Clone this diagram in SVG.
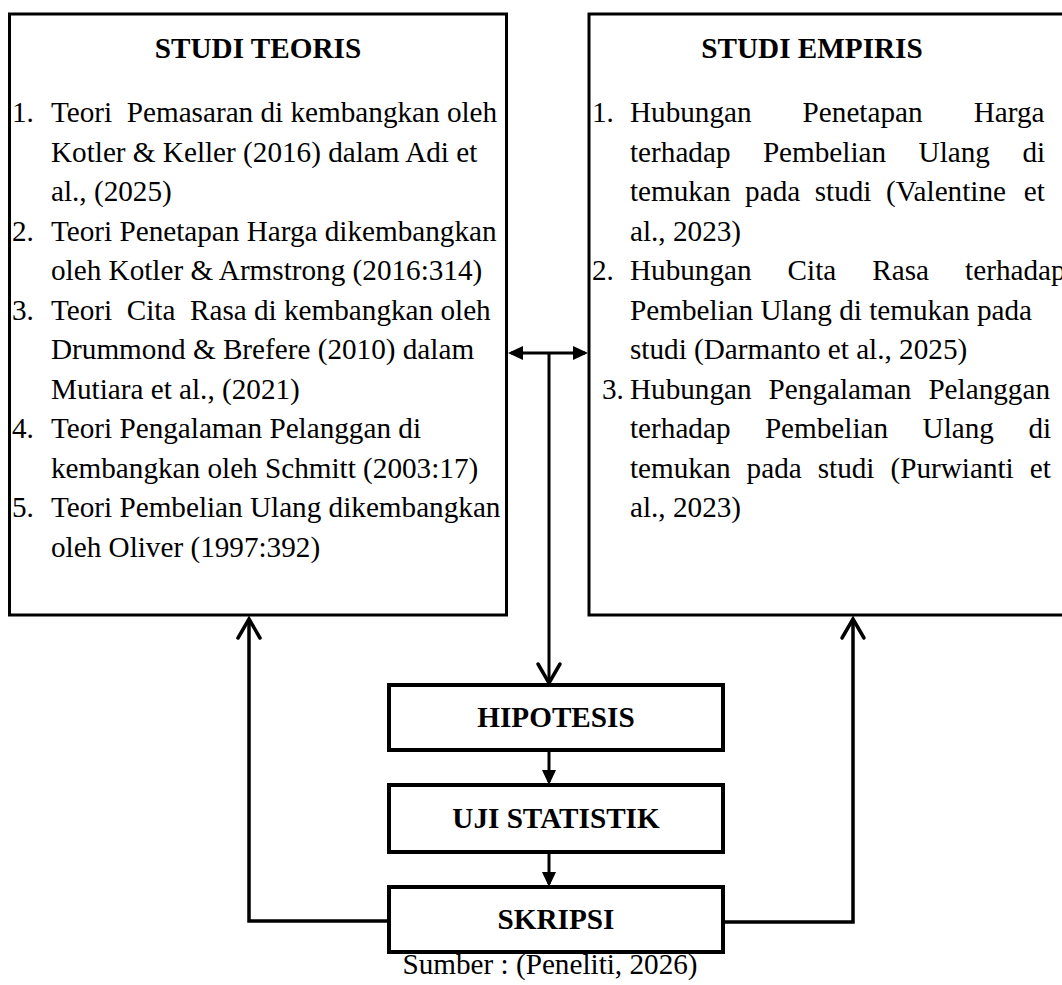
<svg xmlns="http://www.w3.org/2000/svg" width="1062" height="985" viewBox="0 0 1062 985">
<style>
text{font-family:"Liberation Serif","Times New Roman",serif;font-size:29.2px;fill:#000;white-space:pre}
.b{font-weight:bold}
.m{text-anchor:middle}
.box{fill:#fff;stroke:#000;stroke-width:3}
.sbox{fill:#fff;stroke:#000;stroke-width:4}
.ln{fill:none;stroke:#000;stroke-width:3}
.lp{fill:none;stroke:#000;stroke-width:3.5}
</style>
<defs>
<marker id="tri" markerUnits="userSpaceOnUse" markerWidth="30" markerHeight="30" refX="0" refY="0" orient="auto-start-reverse" style="overflow:visible">
<path d="M3,0 L-12,-7 L-12,7 Z" fill="#000"/>
</marker>
<marker id="open" markerUnits="userSpaceOnUse" markerWidth="30" markerHeight="30" refX="0" refY="0" orient="auto" style="overflow:visible">
<path d="M-19,-11 L0,0 L-19,11" fill="none" stroke="#000" stroke-width="3.5" stroke-linecap="round"/>
</marker>
</defs>
<rect width="1062" height="985" fill="#fff"/>

<g id="studi-teoris">
<rect class="box" x="9.5" y="14" width="497" height="601"/>
<text class="b m" x="258" y="57.5">STUDI TEORIS</text>
<text x="12" y="122">1.</text><text x="51" y="122" xml:space="preserve">Teori  Pemasaran di kembangkan oleh</text>
<text x="51" y="161.5">Kotler &amp; Keller (2016) dalam Adi et</text>
<text x="51" y="201">al., (2025)</text>
<text x="12" y="240.5">2.</text><text x="51" y="240.5">Teori Penetapan Harga dikembangkan</text>
<text x="51" y="280">oleh Kotler &amp; Armstrong (2016:314)</text>
<text x="12" y="319.5">3.</text><text x="51" y="319.5" xml:space="preserve">Teori  Cita  Rasa di kembangkan oleh</text>
<text x="51" y="359">Drummond &amp; Brefere (2010) dalam</text>
<text x="51" y="398.5">Mutiara et al., (2021)</text>
<text x="12" y="438">4.</text><text x="51" y="438">Teori Pengalaman Pelanggan di</text>
<text x="51" y="477.5">kembangkan oleh Schmitt (2003:17)</text>
<text x="12" y="517">5.</text><text x="51" y="517">Teori Pembelian Ulang dikembangkan</text>
<text x="51" y="556.5">oleh Oliver (1997:392)</text>
</g>

<g id="studi-empiris">
<rect class="box" x="589" y="14" width="490" height="601"/>
<text class="b m" x="812" y="57.5">STUDI EMPIRIS</text>
<text x="592" y="122">1.</text><text x="630" y="122">Hubungan</text><text x="802.6" y="122">Penetapan</text><text x="973.7" y="122">Harga</text>
<text x="630" y="161.5">terhadap</text><text x="762.9" y="161.5">Pembelian</text><text x="918.6" y="161.5">Ulang</text><text x="1022.4" y="161.5">di</text>
<text x="630" y="201">temukan</text><text x="745.1" y="201">pada</text><text x="814.7" y="201">studi</text><text x="886" y="201">(Valentine</text><text x="1023.8" y="201">et</text>
<text x="630" y="240.5">al., 2023)</text>
<text x="592" y="280">2.</text><text x="630" y="280">Hubungan</text><text x="787.6" y="280">Cita</text><text x="872.3" y="280">Rasa</text><text x="965.1" y="280">terhadap</text>
<text x="630" y="319.5">Pembelian Ulang di temukan pada</text>
<text x="630" y="359">studi (Darmanto et al., 2025)</text>
<text x="602" y="398.5">3.</text><text x="630" y="398.5">Hubungan</text><text x="768.6" y="398.5">Pengalaman</text><text x="928.4" y="398.5">Pelanggan</text>
<text x="630" y="438">terhadap</text><text x="764.9" y="438">Pembelian</text><text x="922.6" y="438">Ulang</text><text x="1028.4" y="438">di</text>
<text x="630" y="477.5">temukan</text><text x="746.6" y="477.5">pada</text><text x="817.7" y="477.5">studi</text><text x="890.5" y="477.5">(Purwianti</text><text x="1029.8" y="477.5">et</text>
<text x="630" y="517">al., 2023)</text>
</g>

<g id="hipotesis">
<rect class="sbox" x="389" y="685" width="334" height="65"/>
<text class="b m" x="556" y="727">HIPOTESIS</text>
</g>

<g id="uji-statistik">
<rect class="sbox" x="389" y="785" width="334" height="67"/>
<text class="b m" x="556" y="828">UJI STATISTIK</text>
</g>

<g id="skripsi">
<rect class="sbox" x="389" y="887" width="334" height="65"/>
<text class="b m" x="556" y="929">SKRIPSI</text>
</g>

<g id="connectors">
<path class="ln" d="M511,353 L585,353" marker-start="url(#tri)" marker-end="url(#tri)"/>
<path class="ln" d="M549,353 L549,683" marker-end="url(#open)"/>
<path class="ln" d="M549,752 L549,782" marker-end="url(#tri)"/>
<path class="ln" d="M549,854 L549,884" marker-end="url(#tri)"/>
<path class="lp" d="M387,921 L249,921 L249,619" marker-end="url(#open)"/>
<path class="lp" d="M725,922 L853,922 L853,619" marker-end="url(#open)"/>
</g>

<text class="m" x="550" y="974">Sumber : (Peneliti, 2026)</text>
</svg>
